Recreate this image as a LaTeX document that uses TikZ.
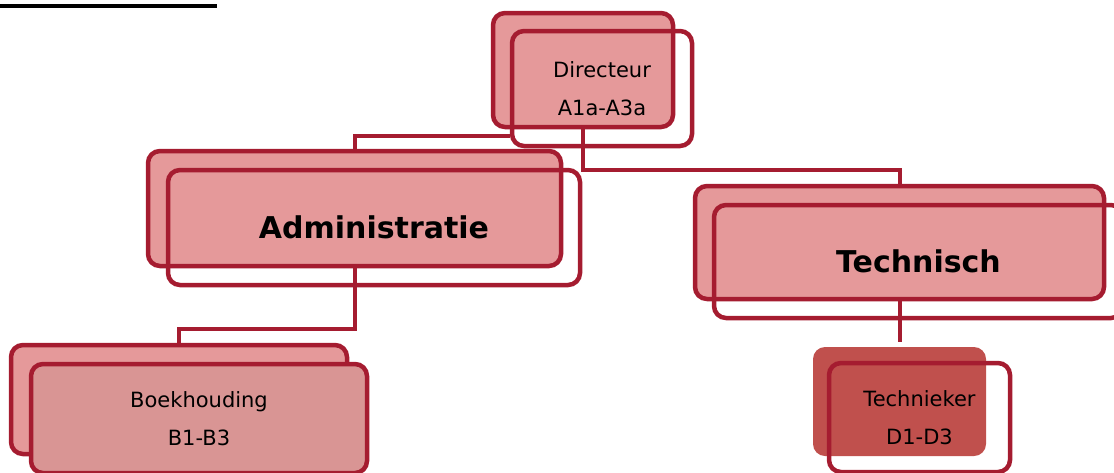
\documentclass[tikz,border=0pt]{standalone}
\usepackage{fontspec}
\setmainfont{DejaVu Sans}
\usetikzlibrary{calc}
\pgfdeclarelayer{background}
\pgfsetlayers{background,main}
\definecolor{lineRed}{HTML}{A51C30}
\definecolor{boxPink}{HTML}{E5999A}
\definecolor{boxRose}{HTML}{D99594}
\definecolor{boxDark}{HTML}{C0504D}
\tikzset{
  box/.style={rounded corners=12pt, line width=4.5pt, draw=lineRed, inner sep=0pt, align=center, text=black},
  backbox/.style={box, fill=boxPink},
  frontbox/.style={box},
  conn/.style={draw=lineRed, line width=4pt},
  small/.style={font=\fontsize{21}{38}\selectfont},
  big/.style={font=\bfseries\fontsize{30}{36}\selectfont},
}
\begin{document}
\begin{tikzpicture}[x=1pt,y=-1pt]
\useasboundingbox (0,0) rectangle (1114,472);
\begin{scope}
\clip (0,0) rectangle (1114,472);
% heading underline (text cut off above)
\fill[black] (0,4) rectangle (217,8);

% back boxes
\node[backbox, minimum width=180pt, minimum height=114pt] (dirB) at (583,70) {};
\node[backbox, minimum width=413pt, minimum height=115pt] (admB) at (354.5,208.5) {};
\node[backbox, minimum width=409pt, minimum height=113pt] (techB) at (899.5,242.5) {};
\node[backbox, minimum width=336pt, minimum height=109pt] (boekB) at (179,399.5) {};
\node[box, draw=none, fill=boxDark, minimum width=173pt, minimum height=109pt] (tknB) at (899.5,401.5) {};

% front boxes
\node[frontbox, small, minimum width=180pt, minimum height=115pt] (dirF) at (602,88.5) {Directeur\\A1a-A3a};
\node[frontbox, big, minimum width=412pt, minimum height=115pt] (admF) at (374,227.5) {Administratie};
\node[frontbox, big, minimum width=409pt, minimum height=113pt] (techF) at (918.5,261.5) {Technisch};
\node[frontbox, small, fill=boxRose, minimum width=336pt, minimum height=109pt] (boekF) at (199,418.5) {Boekhouding\\B1-B3};
\node[frontbox, small, minimum width=181pt, minimum height=109pt] (tknF) at (919.5,417.5) {Technieker\\D1-D3};

\coordinate (tknTop) at (899.5,342);

% connectors (behind boxes)
\begin{pgfonlayer}{background}
\draw[conn] (dirB.south) -- ++(0,41) -| (techB.north);
\draw[conn] ($(dirF.south west)+(0,-12)$) -| (admB.north);
\draw[conn] (admB.south) -- ++(0,61) -| (boekB.north);
\draw[conn] (techB.south) -- (tknTop);
\end{pgfonlayer}
\end{scope}
\end{tikzpicture}
\end{document}
